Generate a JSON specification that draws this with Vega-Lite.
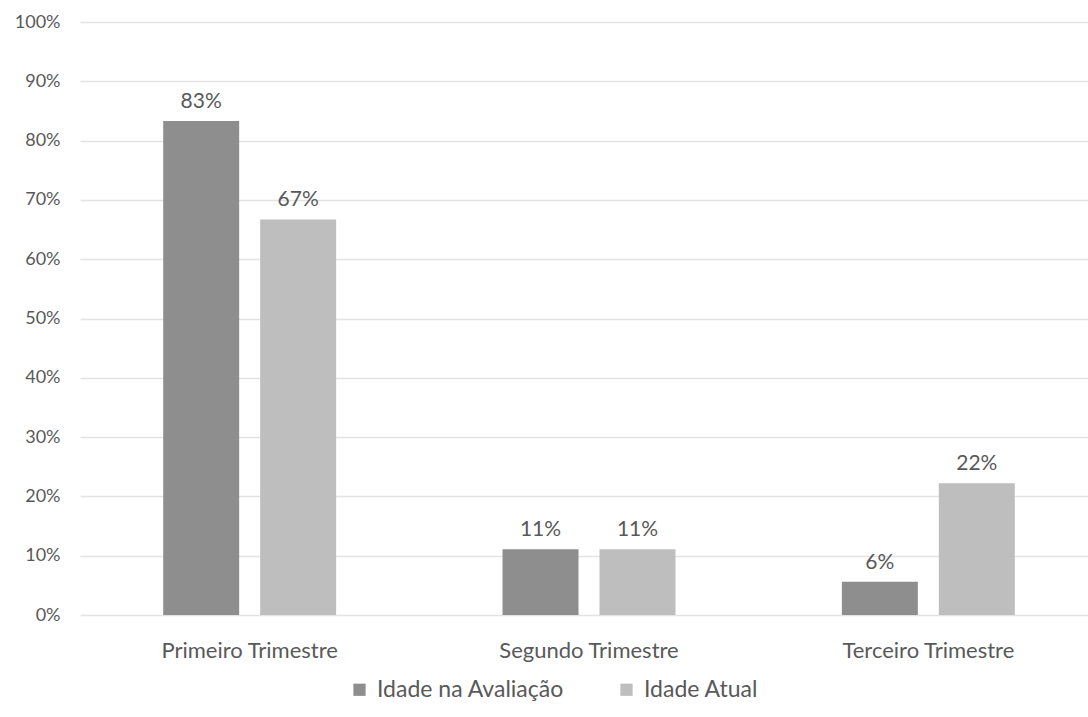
{
  "$schema": "https://vega.github.io/schema/vega-lite/v6.json",
  "autosize": "none",
  "width": 1008,
  "height": 593,
  "padding": {"left": 80, "top": 22, "right": 0, "bottom": 102},
  "background": "white",
  "config": {
    "font": "Lato",
    "view": {"stroke": null}
  },
  "data": {
    "values": [
      {"trimestre": "Primeiro Trimestre", "serie": "Idade na Avaliação", "valor": 0.833},
      {"trimestre": "Primeiro Trimestre", "serie": "Idade Atual", "valor": 0.667},
      {"trimestre": "Segundo Trimestre", "serie": "Idade na Avaliação", "valor": 0.111},
      {"trimestre": "Segundo Trimestre", "serie": "Idade Atual", "valor": 0.111},
      {"trimestre": "Terceiro Trimestre", "serie": "Idade na Avaliação", "valor": 0.056},
      {"trimestre": "Terceiro Trimestre", "serie": "Idade Atual", "valor": 0.222}
    ]
  },
  "encoding": {
    "x": {
      "field": "trimestre",
      "type": "nominal",
      "sort": ["Primeiro Trimestre", "Segundo Trimestre", "Terceiro Trimestre"],
      "scale": {"range": [0, 1018], "paddingInner": 0, "paddingOuter": 0},
      "axis": {
        "title": null,
        "labelAngle": 0,
        "domain": false,
        "ticks": false,
        "labelFontSize": 22,
        "labelLimit": 400,
        "labelColor": "#595959",
        "labelPadding": 25
      }
    },
    "xOffset": {
      "field": "serie",
      "type": "nominal",
      "sort": ["Idade na Avaliação", "Idade Atual"],
      "scale": {"paddingInner": 0.2165, "paddingOuter": 0.858}
    },
    "y": {
      "field": "valor",
      "type": "quantitative",
      "scale": {"domain": [0, 1]},
      "axis": {
        "title": null,
        "format": ".0%",
        "values": [0, 0.1, 0.2, 0.3, 0.4, 0.5, 0.6, 0.7, 0.8, 0.9, 1],
        "domain": false,
        "ticks": false,
        "labelFontSize": 18,
        "labelColor": "#595959",
        "labelPadding": 20,
        "gridColor": "#e3e3e3",
        "gridWidth": 1.5
      }
    }
  },
  "layer": [
    {
      "mark": {"type": "bar"},
      "encoding": {
        "color": {
          "field": "serie",
          "type": "nominal",
          "sort": ["Idade na Avaliação", "Idade Atual"],
          "scale": {"domain": ["Idade na Avaliação", "Idade Atual"], "range": ["#8e8e8e", "#bebebe"]},
          "legend": {
            "title": null,
            "orient": "none",
            "direction": "horizontal",
            "legendX": 268,
            "legendY": 656,
            "symbolType": "square",
            "symbolSize": 150,
            "symbolStrokeWidth": 0,
            "labelFontSize": 23,
            "labelLimit": 400,
            "labelColor": "#595959",
            "columnPadding": 50,
            "labelOffset": 6
          }
        }
      }
    },
    {
      "mark": {"type": "text", "baseline": "bottom", "dy": -9, "fontSize": 21, "color": "#595959"},
      "encoding": {
        "text": {"field": "valor", "type": "quantitative", "format": ".0%"}
      }
    }
  ]
}
